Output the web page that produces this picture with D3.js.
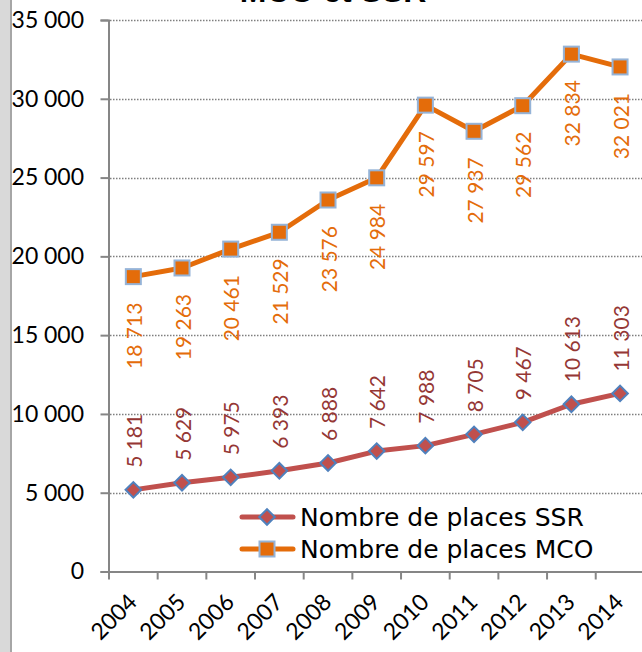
<!DOCTYPE html>
<html>
<head>
<meta charset="utf-8">
<script src="https://cdn.jsdelivr.net/npm/d3@7"></script>
<style>
  html, body { margin: 0; padding: 0; background: #fff; }
  svg { display: block; }
</style>
</head>
<body>
<script>
const years = ["2004","2005","2006","2007","2008","2009","2010","2011","2012","2013","2014"];
const ssrValues = [5181, 5629, 5975, 6393, 6888, 7642, 7988, 8705, 9467, 10613, 11303];
const mcoValues = [18713, 19263, 20461, 21529, 23576, 24984, 29597, 27937, 29562, 32834, 32021];
const yTicks = [0, 5000, 10000, 15000, 20000, 25000, 30000, 35000];
const seriesNames = ["Nombre de places SSR", "Nombre de places MCO"];
const title = "MCO et SSR";

const W = 642, H = 652;
const svg = d3.select("body").append("svg").attr("width", W).attr("height", H);

// left grey strip
svg.append("rect").attr("x", 0).attr("y", 0).attr("width", 10).attr("height", H).attr("fill", "#d9d9d9");
svg.append("rect").attr("x", 10).attr("y", 0).attr("width", 2).attr("height", H).attr("fill", "#a6a6a6");

const x = d3.scaleBand().domain(years).range([109, 644.4]).paddingInner(0).paddingOuter(0);
const y = d3.scaleLinear().domain([0, 35000]).range([571.5, 20]);

const fmt = v => d3.format(",")(v).replace(/,/g, "\u202F");
const fmtLbl = v => d3.format(",")(v).replace(/,/g, " ");

// title (cut off at the top edge, as in the reference)
svg.append("text").attr("x", 333).attr("y", 2).attr("text-anchor", "middle")
  .attr("font-family", "Liberation Sans, Arial, sans-serif").attr("font-weight", "bold")
  .attr("font-size", 32).attr("fill", "#000").text(title);

// gridlines
svg.append("g").selectAll("line").data(yTicks.filter(d => d > 0)).join("line")
  .attr("x1", 110).attr("x2", W).attr("y1", d => Math.round(y(d)) + 0.5).attr("y2", d => Math.round(y(d)) + 0.5)
  .attr("stroke", "#7f7f7f").attr("stroke-width", 1.3).attr("stroke-dasharray", "1.5,1.5");

// y axis
const yAxis = d3.axisLeft(y).tickValues(yTicks).tickSize(8).tickPadding(16.5).tickFormat(fmt);
const gy = svg.append("g").attr("transform", "translate(108.5,0)").call(yAxis);
gy.select(".domain").attr("stroke", "#868686").attr("stroke-width", 2);
gy.selectAll(".tick line").attr("stroke", "#868686").attr("stroke-width", 2);
gy.selectAll(".tick text").attr("font-family", "Lato, sans-serif").attr("font-size", 23).attr("fill", "#000");

// x axis
const xAxis = d3.axisBottom(x).tickSize(0).tickFormat(d => d);
const gx = svg.append("g").attr("transform", `translate(0,${y(0)})`).call(xAxis);
gx.select(".domain").attr("stroke", "#868686").attr("stroke-width", 2);
gx.selectAll(".tick text")
  .attr("font-family", "Lato, sans-serif").attr("font-size", 23).attr("fill", "#000")
  .attr("text-anchor", "end").attr("dy", null).attr("y", 0)
  .attr("transform", "translate(5,32) rotate(-45)");
// boundary ticks
const bounds = years.map(d => x(d)).concat([x(years[years.length-1]) + x.step()]);
svg.append("g").selectAll("line").data(bounds).join("line")
  .attr("x1", d => d).attr("x2", d => d).attr("y1", y(0)).attr("y2", y(0) + 8)
  .attr("stroke", "#868686").attr("stroke-width", 2);

const cx = d => x(d) + x.bandwidth() / 2;
const line = d3.line().x(d => cx(d.year)).y(d => y(d.v));

const ssr = years.map((yr, i) => ({ year: yr, v: ssrValues[i] }));
const mco = years.map((yr, i) => ({ year: yr, v: mcoValues[i] }));

// SSR line
svg.append("path").datum(ssr).attr("d", line).attr("fill", "none")
  .attr("stroke", "#c0504d").attr("stroke-width", 5).attr("stroke-linejoin", "round");
// MCO line
svg.append("path").datum(mco).attr("d", line).attr("fill", "none")
  .attr("stroke", "#e46c0a").attr("stroke-width", 5).attr("stroke-linejoin", "round");

const diamond = (g, px, py, s) => g.append("rect")
  .attr("x", -s/2).attr("y", -s/2).attr("width", s).attr("height", s)
  .attr("transform", `translate(${px},${py}) rotate(45)`)
  .attr("fill", "#c0504d").attr("stroke", "#4f81bd").attr("stroke-width", 2);
const square = (g, px, py, s) => g.append("rect")
  .attr("x", px - s/2).attr("y", py - s/2).attr("width", s).attr("height", s)
  .attr("fill", "#e46c0a").attr("stroke", "#95b3d7").attr("stroke-width", 2);

const mk = svg.append("g");
ssr.forEach(d => diamond(mk, cx(d.year), y(d.v), 11));
mco.forEach(d => square(mk, cx(d.year), y(d.v), 15));

// data labels
svg.append("g").selectAll("text").data(mco).join("text")
  .attr("transform", d => `translate(${cx(d.year)},${y(d.v) + 26}) rotate(-90)`)
  .attr("text-anchor", "end").attr("dominant-baseline", "central")
  .attr("font-family", "Lato, sans-serif").attr("font-size", 21).attr("fill", "#e46c0a")
  .text(d => fmtLbl(d.v));
svg.append("g").selectAll("text").data(ssr).join("text")
  .attr("transform", d => `translate(${cx(d.year)},${y(d.v) - 22}) rotate(-90)`)
  .attr("text-anchor", "start").attr("dominant-baseline", "central")
  .attr("font-family", "Lato, sans-serif").attr("font-size", 21).attr("fill", "#953735")
  .text(d => fmtLbl(d.v));

// legend
const lg = svg.append("g");
const lgY = [517, 549];
lg.append("line").attr("x1", 242).attr("x2", 293).attr("y1", lgY[0]).attr("y2", lgY[0])
  .attr("stroke", "#c0504d").attr("stroke-width", 5).attr("stroke-linecap", "round");
diamond(lg, 267, lgY[0], 11);
lg.append("line").attr("x1", 242).attr("x2", 293).attr("y1", lgY[1]).attr("y2", lgY[1])
  .attr("stroke", "#e46c0a").attr("stroke-width", 5).attr("stroke-linecap", "round");
square(lg, 267, lgY[1], 15);
lg.selectAll("text.lg").data(seriesNames).join("text").attr("class", "lg")
  .attr("x", 300).attr("y", (d, i) => lgY[i]).attr("dominant-baseline", "central")
  .attr("font-family", "DejaVu Sans, sans-serif").attr("font-size", 25).attr("fill", "#000")
  .text(d => d);
</script>
</body>
</html>
